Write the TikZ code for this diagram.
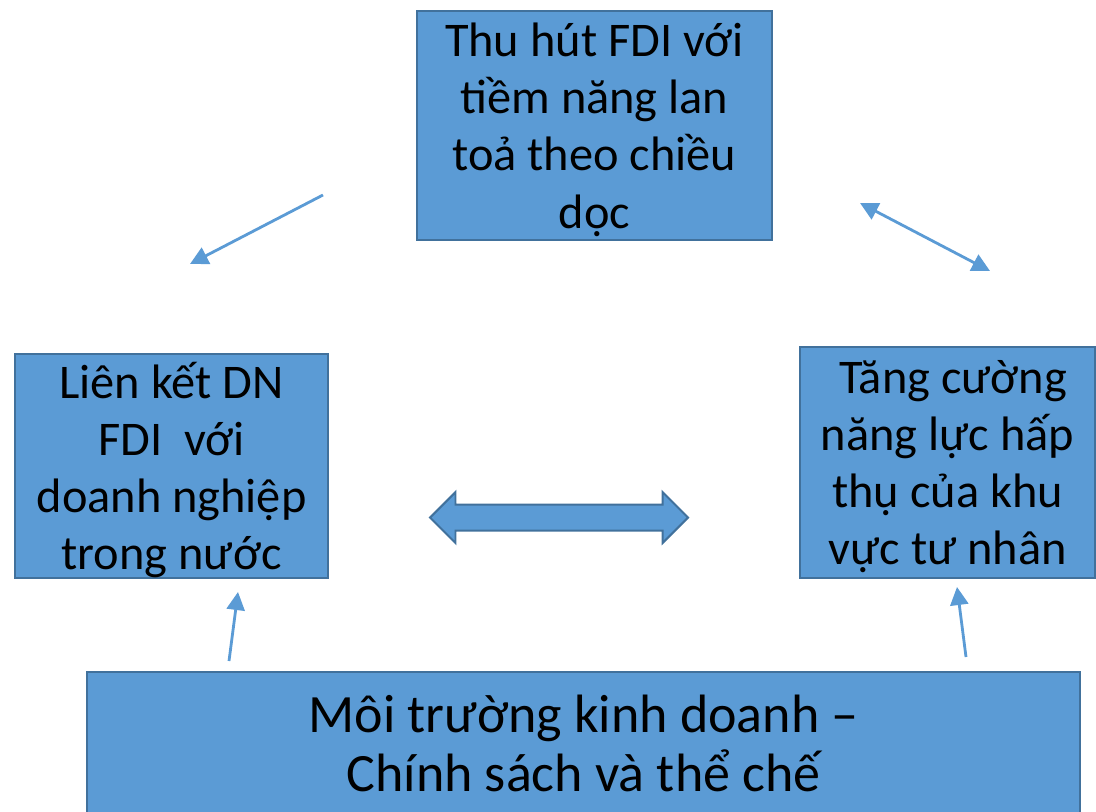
\documentclass[tikz,border=0pt]{standalone}
\usepackage{fontspec}
\setmainfont{Carlito}
\usetikzlibrary{arrows.meta,shapes.arrows,positioning}
\definecolor{boxblue}{HTML}{5B9BD5}
\definecolor{edgeblue}{HTML}{41719C}
\tikzset{
  basic/.style  = {draw=edgeblue, fill=boxblue, line width=1.4pt, rectangle,
                   align=center, inner sep=0pt},
  idea/.style   = {basic, text depth=0pt, font=\fontsize{34.4}{40.6}\selectfont},
  base/.style   = {basic, font=\fontsize{38.4}{42}\selectfont},
  link/.style   = {draw=boxblue, line width=2pt,
                   -{Triangle[length=0.45cm,width=0.45cm]}},
  twoway/.style = {link, {Triangle[length=0.45cm,width=0.45cm]}-{Triangle[length=0.45cm,width=0.45cm]}}
}

\begin{document}
\begin{tikzpicture}

\useasboundingbox (0,0) rectangle (27.4,-20.3);

% cac o chinh
\node[idea, minimum width=8.875cm, minimum height=5.725cm] (fdi) at (14.86,-3.14)
  {Thu hút FDI với\\ tiềm năng lan\\ toả theo chiều\\ dọc};
\node[idea, minimum width=7.825cm, minimum height=5.6cm] (lienket) at (4.29,-11.65)
  {Liên kết DN\\ FDI\ \ với\\ doanh nghiệp\\ trong nước};
\node[idea, minimum width=7.375cm, minimum height=5.775cm] (nangluc) at (23.69,-11.56)
  {\ Tăng cường\\ năng lực hấp\\ thụ của khu\\ vực tư nhân};
\node[base, minimum width=24.825cm, minimum height=3.55cm] (moitruong) at (14.59,-18.575)
  {Môi trường kinh doanh –\\ Chính sách và thể chế};

% mui ten khoi hai chieu
\node[double arrow, draw=edgeblue, fill=boxblue, line width=1.4pt,
      inner xsep=0pt, inner ysep=0.3cm, minimum height=6.45cm,
      double arrow head extend=0.3125cm] (khoi) at (13.975,-12.94) {};

% cac diem dau mui ten
\coordinate (a1) at (8.075,-4.875);
\coordinate (a2) at (4.75,-6.6);
\coordinate (b1) at (21.5,-5.075);
\coordinate (b2) at (24.75,-6.775);
\coordinate (c1) at (5.725,-16.525);
\coordinate (c2) at (5.95,-14.8);
\coordinate (d1) at (24.15,-16.425);
\coordinate (d2) at (23.925,-14.675);

\draw[link] (a1) -- (a2);
\draw[twoway] (b1) -- (b2);
\draw[link] (c1) -- (c2);
\draw[link] (d1) -- (d2);

\end{tikzpicture}
\end{document}
